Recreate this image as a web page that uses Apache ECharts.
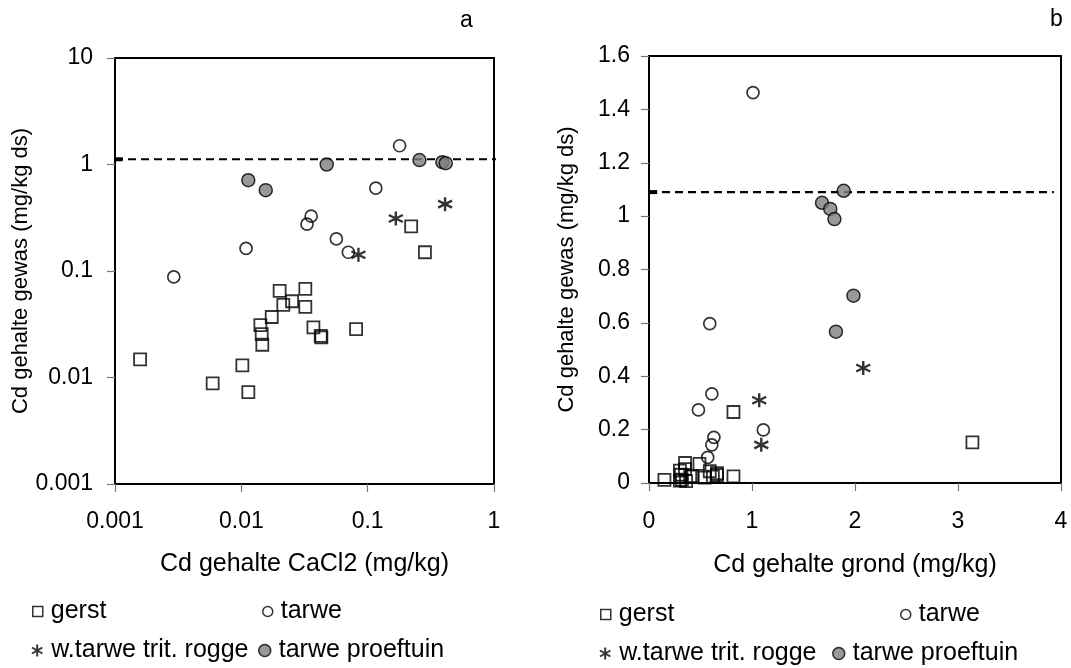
<!DOCTYPE html>
<html>
<head>
<meta charset="utf-8">
<script src="https://cdn.jsdelivr.net/npm/echarts@6/dist/echarts.min.js"></script>
<style>
html,body{margin:0;padding:0;background:#fff;}
#chart{width:1071px;height:668px;}
</style>
</head>
<body>
<div id="chart"></div>
<script>
// ---------- Data (panel a: Cd CaCl2 vs Cd gewas, log-log) ----------
const gerstA_x = [0.221, 0.284, 0.0201, 0.0321, 0.0252, 0.0215, 0.0321, 0.0174, 0.01415, 0.0145, 0.01466, 0.0372, 0.0425, 0.0430, 0.081, 0.00158, 0.01019, 0.00593, 0.01136];
const gerstA_y = [0.262, 0.150, 0.065, 0.068, 0.052, 0.048, 0.046, 0.037, 0.031, 0.0255, 0.0203, 0.0295, 0.0246, 0.0238, 0.0284, 0.0148, 0.0130, 0.0088, 0.0073];
const tarweA_x = [0.179, 0.116, 0.0357, 0.0331, 0.0565, 0.0703, 0.0109, 0.00292];
const tarweA_y = [1.50, 0.60, 0.327, 0.275, 0.20, 0.150, 0.163, 0.088];
const roggeA_x = [0.41, 0.167, 0.0845];
const roggeA_y = [0.424, 0.311, 0.142];
const proefA_x = [0.01135, 0.0156, 0.0474, 0.257, 0.39, 0.415];
const proefA_y = [0.712, 0.574, 1.0, 1.10, 1.05, 1.03];
const normA = 1.12;

// ---------- Data (panel b: Cd grond vs Cd gewas, linear) ----------
const gerstB_x = [0.82, 3.14, 0.35, 0.49, 0.35, 0.30, 0.59, 0.66, 0.31, 0.42, 0.54, 0.66, 0.40, 0.62, 0.82, 0.15, 0.32, 0.30, 0.36];
const gerstB_y = [0.266, 0.152, 0.075, 0.072, 0.052, 0.046, 0.044, 0.037, 0.031, 0.025, 0.020, 0.030, 0.025, 0.024, 0.025, 0.012, 0.013, 0.009, 0.007];
const tarweB_x = [1.01, 0.59, 0.61, 0.48, 1.11, 0.63, 0.61, 0.57];
const tarweB_y = [1.463, 0.597, 0.334, 0.274, 0.199, 0.171, 0.143, 0.096];
const roggeB_x = [2.08, 1.07, 1.09];
const roggeB_y = [0.431, 0.310, 0.143];
const proefB_x = [1.89, 1.68, 1.76, 1.80, 1.985, 1.815];
const proefB_y = [1.095, 1.050, 1.027, 0.989, 0.702, 0.567];
const normB = 1.09;

// ---------- Tick labels ----------
const xTicksA = ['0.001', '0.01', '0.1', '1'];
const yTicksA = ['0.001', '0.01', '0.1', '1', '10'];
const xTicksB = ['0', '1', '2', '3', '4'];
const yTicksB = ['0', '0.2', '0.4', '0.6', '0.8', '1', '1.2', '1.4', '1.6'];

const names = ['gerst', 'tarwe', 'w.tarwe trit. rogge', 'tarwe proeftuin'];

const FONT = 'Liberation Sans, Arial, sans-serif';
const FS_TICK = 23, FS_XNAME = 25, FS_YNAME = 22, FS_LEG = 25;
const zip = (xs, ys) => xs.map((x, i) => [x, ys[i]]);

const asterisk = 'path://M0,-10 L0,10 M-8.66,-5 L8.66,5 M-8.66,5 L8.66,-5';
const styles = [
  {symbol: 'rect', symbolSize: 12, itemStyle: {color: 'rgba(255,255,255,0)', borderColor: '#000', borderWidth: 1.8}},
  {symbol: 'circle', symbolSize: 12, itemStyle: {color: 'rgba(255,255,255,0)', borderColor: '#000', borderWidth: 1.7}},
  {symbol: asterisk, symbolSize: 14, itemStyle: {color: 'rgba(255,255,255,0)', borderColor: '#000', borderWidth: 2.4}},
  {symbol: 'circle', symbolSize: 13, itemStyle: {color: '#808080', borderColor: '#000', borderWidth: 1.5}}
];

function scatter(nameIdx, xs, ys, axisIdx) {
  const st = styles[nameIdx];
  return {
    type: 'scatter', name: names[nameIdx],
    xAxisIndex: axisIdx, yAxisIndex: axisIdx,
    data: zip(xs, ys), z: 3 + (nameIdx === 3 ? 1 : 0),
    emphasis: {disabled: true},
    symbol: st.symbol, symbolSize: st.symbolSize, itemStyle: st.itemStyle
  };
}

function normLine(axisIdx, x0, x1, y, width, dashed) {
  return {
    type: 'line', xAxisIndex: axisIdx, yAxisIndex: axisIdx,
    data: [[x0, y], [x1, y]], symbol: 'none', clip: false, silent: true,
    lineStyle: {color: '#000', width: width, type: dashed ? [8, 5] : 'solid'},
    z: 2
  };
}

const tickText = {color: '#000', fontFamily: FONT, fontSize: FS_TICK};
const xNameText = {color: '#000', fontFamily: FONT, fontSize: FS_XNAME};
const yNameText = {color: '#000', fontFamily: FONT, fontSize: FS_YNAME};
const tickStyle = {show: true, length: 8, lineStyle: {color: '#777', width: 1.2}};
const lineStyleAx = {show: true, lineStyle: {color: '#000', width: 2}};

const grids = [
  {left: 115, top: 58, width: 379, height: 426, show: true, borderColor: '#000', borderWidth: 2, backgroundColor: '#fff'},
  {left: 649, top: 56, width: 412, height: 427, show: true, borderColor: '#000', borderWidth: 2, backgroundColor: '#fff'}
];

const xAxes = [
  {gridIndex: 0, type: 'log', logBase: 10, min: 0.001, max: 1,
   name: 'Cd gehalte CaCl2 (mg/kg)', nameLocation: 'middle', nameGap: 68, nameTextStyle: xNameText,
   axisLine: lineStyleAx, axisTick: tickStyle, splitLine: {show: false}, minorTick: {show: false},
   axisLabel: Object.assign({margin: 26, formatter: v => xTicksA[Math.round(Math.log10(v)) + 3]}, tickText)},
  {gridIndex: 1, type: 'value', min: 0, max: 4, interval: 1,
   name: 'Cd gehalte grond (mg/kg)', nameLocation: 'middle', nameGap: 70, nameTextStyle: xNameText,
   axisLine: lineStyleAx, axisTick: tickStyle, splitLine: {show: false},
   axisLabel: Object.assign({margin: 27, formatter: v => xTicksB[Math.round(v)]}, tickText)}
];

const yAxes = [
  {gridIndex: 0, type: 'log', logBase: 10, min: 0.001, max: 10,
   name: 'Cd gehalte gewas (mg/kg ds)', nameLocation: 'middle', nameGap: 79, nameTextStyle: yNameText,
   axisLine: lineStyleAx, axisTick: tickStyle, splitLine: {show: false}, minorTick: {show: false},
   axisLabel: Object.assign({margin: 22, formatter: v => yTicksA[Math.round(Math.log10(v)) + 3]}, tickText)},
  {gridIndex: 1, type: 'value', min: 0, max: 1.6, interval: 0.2,
   name: 'Cd gehalte gewas (mg/kg ds)', nameLocation: 'middle', nameGap: 71, nameTextStyle: yNameText,
   axisLine: lineStyleAx, axisTick: tickStyle, splitLine: {show: false},
   axisLabel: Object.assign({margin: 19, formatter: v => yTicksB[Math.round(v / 0.2)]}, tickText)}
];

const series = [
  normLine(0, 0.001, 1.22, normA, 2.2, true),
  normLine(0, 0.001, 0.00115, normA, 4, false),
  normLine(1, 0, 3.93, normB, 2.2, true),
  normLine(1, 0, 0.08, normB, 4, false),
  scatter(0, gerstA_x, gerstA_y, 0),
  scatter(1, tarweA_x, tarweA_y, 0),
  scatter(2, roggeA_x, roggeA_y, 0),
  scatter(3, proefA_x, proefA_y, 0),
  scatter(0, gerstB_x, gerstB_y, 1),
  scatter(1, tarweB_x, tarweB_y, 1),
  scatter(2, roggeB_x, roggeB_y, 1),
  scatter(3, proefB_x, proefB_y, 1)
];

function legendItem(idx, left, top) {
  const st = styles[idx];
  const sz = idx === 3 ? 12 : (idx === 2 ? 12 : 10);
  return {
    left: left, top: top, orient: 'horizontal', padding: 0,
    itemWidth: sz, itemHeight: sz, itemGap: 0,
    selectedMode: false,
    textStyle: {color: '#000', fontFamily: FONT, fontSize: FS_LEG, padding: [0, 0, 0, 3]},
    data: [{name: names[idx], icon: st.symbol, itemStyle: Object.assign({}, st.itemStyle, {borderWidth: idx === 2 ? 2 : 1.5})}]
  };
}

const legends = [
  legendItem(0, 32, 599), legendItem(1, 262, 599),
  legendItem(2, 31, 638), legendItem(3, 258, 638),
  legendItem(0, 600, 602), legendItem(1, 900, 602),
  legendItem(2, 599, 641), legendItem(3, 832, 641)
];

const chart = echarts.init(document.getElementById('chart'), null, {renderer: 'canvas'});
chart.setOption({
  animation: false,
  backgroundColor: '#fff',
  grid: grids,
  xAxis: xAxes,
  yAxis: yAxes,
  legend: legends,
  series: series,
  graphic: [
    {type: 'text', left: 460, top: 9, style: {text: 'a', fill: '#000', font: FS_TICK + 'px ' + FONT}},
    {type: 'text', left: 1050, top: 8, style: {text: 'b', fill: '#000', font: FS_TICK + 'px ' + FONT}}
  ]
});
</script>
</body>
</html>
